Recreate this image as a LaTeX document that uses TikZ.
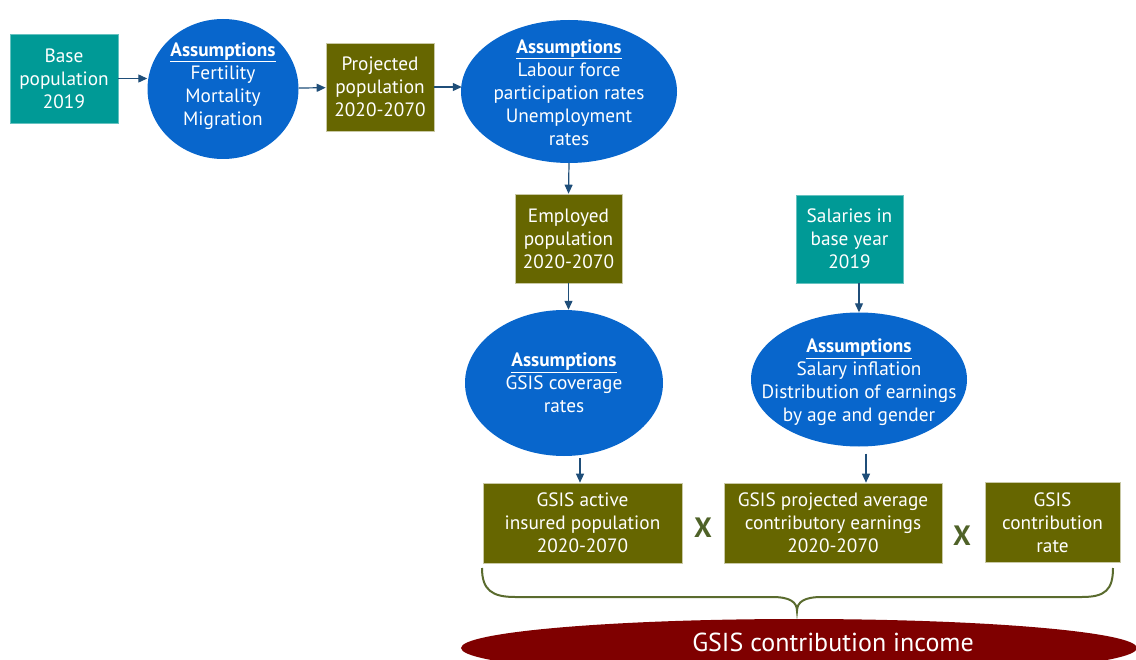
\documentclass[tikz,border=0pt]{standalone}
\usepackage{fontspec}
\setmainfont{PT Sans}
\usetikzlibrary{arrows.meta,shapes.geometric}
\definecolor{tealbox}{HTML}{009A96}
\definecolor{bluell}{HTML}{0866CC}
\definecolor{olivebox}{HTML}{666600}
\definecolor{darkred}{HTML}{7F0000}
\definecolor{arrowblue}{HTML}{1F4E79}
\definecolor{xgreen}{HTML}{4F6228}
\definecolor{bracegreen}{HTML}{5A6B2E}
\tikzset{
  basefont/.style={font=\fontsize{19.3}{23}\selectfont},
  tbox/.style={rectangle, fill=tealbox, draw=tealbox!60!white, line width=0.6pt, text=white, align=center, inner sep=0pt, basefont},
  obox/.style={rectangle, fill=olivebox, draw=olivebox!35!white, line width=0.6pt, text=white, align=center, inner sep=0pt, basefont},
  ell/.style={ellipse, fill=bluell, draw=none, inner sep=0pt},
  etxt/.style={text=white, align=center, basefont},
  arr/.style={draw=arrowblue, line width=1.2pt, -{Triangle[length=9pt,width=8pt]}},
  xmark/.style={text=xgreen, font=\fontsize{28}{30}\selectfont\bfseries},
}
\newcommand{\assum}{\textbf{\underline{Assumptions}}}
\begin{document}
\begin{tikzpicture}[x=1pt,y=-1pt]
\useasboundingbox (0,0) rectangle (1136,660);
\clip (0,0) rectangle (1136,660);

\node[tbox, minimum width=108, minimum height=89] (b1) at (64,78.5) {Base\\population\\2019};
\node[ell, minimum width=151, minimum height=140, label={[etxt, yshift=3pt]center:{\assum\\Fertility\\Mortality\\Migration}}] (c1) at (223,89) {};
\node[obox, minimum width=108, minimum height=88] (p1) at (380,87) {Projected\\population\\2020-2070};
\node[ell, minimum width=216, minimum height=143, label={[etxt, yshift=-1pt]center:{\assum\\Labour force\\participation rates\\Unemployment\\rates}}] (e2) at (569,91.5) {};
\node[obox, minimum width=107, minimum height=89] (ep) at (568.5,238.5) {Employed\\population\\2020-2070};
\node[ell, minimum width=198, minimum height=146, label={[etxt]center:{\assum\\GSIS coverage\\rates}}] (e3) at (564,383) {};
\node[tbox, minimum width=107, minimum height=88] (sal) at (849.5,239) {Salaries in\\base year\\2019};
\node[ell, minimum width=216, minimum height=134, label={[etxt, yshift=-3pt]center:{\assum\\Salary inflation\\Distribution of earnings\\by age and gender}}] (e4) at (859,379.5) {};

\node[obox, minimum width=199, minimum height=80] (ga) at (582.5,523) {GSIS active\\insured population\\2020-2070};
\node[obox, minimum width=218, minimum height=80] (gp) at (833,523) {GSIS projected average\\contributory earnings\\2020-2070};
\node[obox, minimum width=135, minimum height=80] (gr) at (1052.5,522.5) {GSIS\\contribution\\rate};
\node[xmark] (x1) at (703,528) {X};
\node[xmark] (x2) at (962,536) {X};

\draw[arr] (b1.east) -- (b1.east -| c1.west);
\draw[arr] (c1) -- (p1);
\draw[arr] (p1.east) -- ([xshift=1pt]p1.east -| e2.west);
\draw[arr] (e2.south) -- (ep.north);
\draw[arr] (ep.south) -- (ep.south |- e3.north);
\draw[arr, shorten <=2pt] ([xshift=16pt]e3.south) -- ([xshift=16pt]e3.south |- ga.north);
\draw[arr] (sal.south -| e4.north) -- (e4.north);
\draw[arr, shorten <=7pt] ([xshift=7pt]e4.south) -- ([xshift=7pt]e4.south |- gp.north);

\coordinate (bl) at (482,568);
\coordinate (br) at (1113,568);
\coordinate (bt) at (797,611);
\draw[bracegreen, line width=2pt] (bl) .. controls (482,590) and (492,597) .. (515,597) -- (772,597) .. controls (790,597) and (797,602) .. (bt) .. controls (797,602) and (804,597) .. (822,597) -- (1082,597) .. controls (1105,597) and (1113,590) .. (br);

\node[ellipse, fill=darkred, minimum width=676, minimum height=58, inner sep=0pt] (inc) at (799,648) {};
\node[text=white, font=\fontsize{26}{30}\selectfont] (inct) at (833,642) {GSIS contribution income};
\end{tikzpicture}
\end{document}
